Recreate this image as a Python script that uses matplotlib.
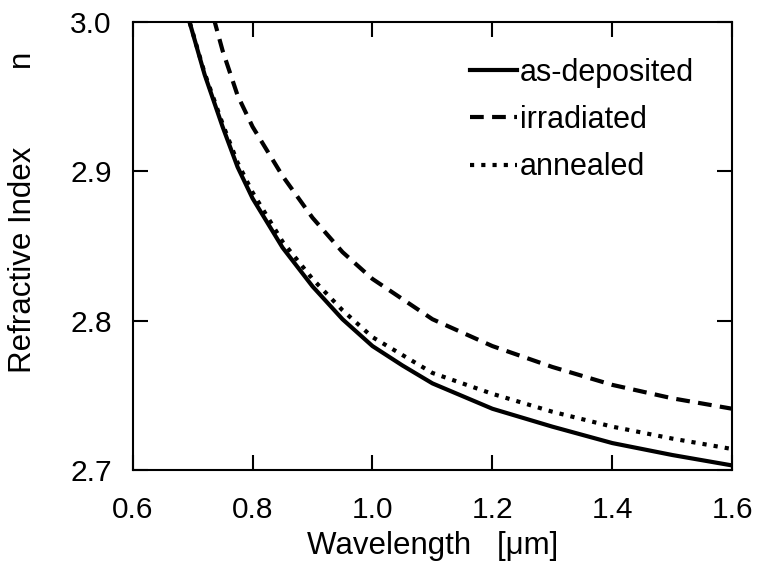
import matplotlib
matplotlib.use("Agg")
import matplotlib.pyplot as plt

plt.rcParams['font.family'] = ['Liberation Sans', 'DejaVu Sans']

# wavelength [um] and refractive index
wl_dep = [0.69, 0.72, 0.75, 0.775, 0.80, 0.85, 0.90, 0.95, 1.00, 1.05, 1.10, 1.20, 1.30, 1.40, 1.50, 1.60]
n_dep = [3.007, 2.965, 2.930, 2.903, 2.882, 2.849, 2.823, 2.801, 2.783, 2.770, 2.758, 2.741, 2.729, 2.718, 2.710, 2.703]

wl_irr = [0.735, 0.75, 0.775, 0.80, 0.85, 0.90, 0.95, 1.00, 1.10, 1.20, 1.30, 1.40, 1.50, 1.60]
n_irr = [3.003, 2.981, 2.951, 2.930, 2.897, 2.869, 2.846, 2.828, 2.801, 2.783, 2.769, 2.757, 2.748, 2.741]

wl_ann = [0.69, 0.72, 0.75, 0.775, 0.80, 0.85, 0.90, 0.95, 1.00, 1.10, 1.20, 1.30, 1.40, 1.50, 1.60]
n_ann = [3.007, 2.966, 2.932, 2.906, 2.886, 2.853, 2.828, 2.807, 2.789, 2.765, 2.751, 2.739, 2.729, 2.721, 2.714]

xticks = [0.6, 0.8, 1.0, 1.2, 1.4, 1.6]
yticks = [2.7, 2.8, 2.9, 3.0]


def main():
    fig = plt.figure(figsize=(7.58, 5.71), dpi=100)
    ax = fig.add_axes([0.175, 0.177, 0.791, 0.784])

    ax.plot(wl_dep, n_dep, color="black", lw=3, ls="-", label="as-deposited")
    ax.plot(wl_irr, n_irr, color="black", lw=3, ls=(0, (3.3, 2)), label="irradiated")
    ax.plot(wl_ann, n_ann, color="black", lw=3, ls=(0, (1, 1.7)), label="annealed")

    ax.set_xlim(0.6, 1.6)
    ax.set_ylim(2.7, 3.0)
    ax.set_xticks(xticks)
    ax.set_yticks(yticks)
    ax.set_xticklabels([f"{t:.1f}" for t in xticks])
    ax.set_yticklabels([f"{t:.1f}" for t in yticks])
    ax.tick_params(direction="in", length=11, width=1.5, labelsize=21.5,
                   top=True, right=True)
    ax.tick_params(axis="x", pad=19)
    ax.tick_params(axis="y", pad=15)
    for s in ax.spines.values():
        s.set_linewidth(1.5)

    ax.set_xlabel("Wavelength   [\u03bcm]", fontsize=22.5, labelpad=5)
    ax.set_ylabel("Refractive Index         n", fontsize=22.5)
    ax.yaxis.set_label_coords(-0.158, 0.575)

    ax.legend(loc="upper left", bbox_to_anchor=(0.562, 0.92), frameon=False,
              fontsize=22, handlelength=1.55, handletextpad=0.1, labelspacing=0.56,
              borderpad=0, borderaxespad=0)

    plt.savefig("out.png", dpi=100)
    plt.close()


if __name__ == "__main__":
    main()
